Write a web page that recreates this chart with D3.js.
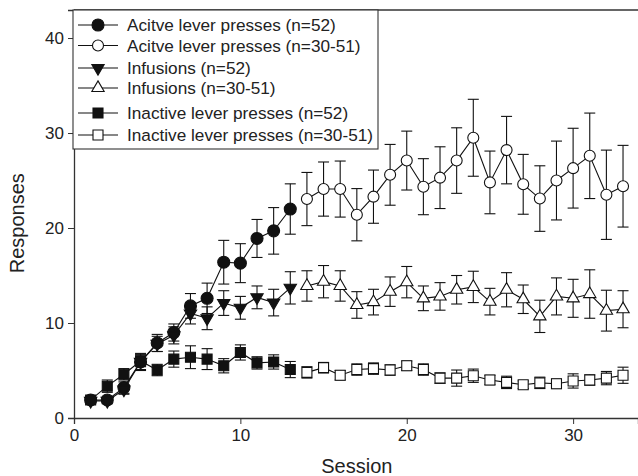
<!DOCTYPE html>
<html>
<head>
<meta charset="utf-8">
<script src="https://cdn.jsdelivr.net/npm/d3@7"></script>
<style>
  body { margin: 0; background: #fff; }
  svg { display: block; font-family: "Liberation Sans", Arial, sans-serif; }
  .axis text { font-size: 17px; fill: #222; }
  .axis path, .axis line { stroke: #333; }
</style>
</head>
<body>
<div id="chart"></div>
<script>
// sessions 1-13 (n=52) and 14-33 (n=30-51)
var sessA = d3.range(1, 14);
var sessB = d3.range(14, 34);

var activeA    = [1.9, 1.9, 3.2, 5.9, 7.9, 9.0, 11.8, 12.6, 16.4, 16.3, 18.9, 19.7, 22.0];
var activeAErr = [0.3, 0.3, 0.6, 0.9, 0.9, 0.9, 1.3, 1.6, 2.3, 2.05, 2.0, 2.45, 2.65];
var activeB    = [23.05, 24.1, 24.1, 21.4, 23.3, 25.6, 27.1, 24.35, 25.3, 27.1, 29.5, 24.8, 28.2, 24.6, 23.1, 25.0, 26.3, 27.6, 23.5, 24.4];
var activeBErr = [2.8, 2.85, 2.95, 2.75, 2.8, 3.2, 3.1, 2.95, 3.25, 3.45, 4.05, 3.3, 3.55, 3.15, 3.45, 4.15, 4.2, 4.5, 4.7, 4.3];

var infA    = [1.8, 1.8, 3.0, 5.9, 7.8, 8.7, 11.0, 10.5, 12.1, 11.6, 12.7, 12.15, 13.7];
var infAErr = [0.3, 0.3, 0.5, 0.8, 0.8, 0.9, 1.1, 1.2, 1.3, 1.2, 1.2, 1.4, 1.7];
var infB    = [13.9, 14.35, 13.9, 11.9, 12.2, 13.3, 14.3, 12.6, 12.8, 13.5, 13.8, 12.25, 13.5, 12.5, 10.7, 12.8, 12.6, 13.05, 11.3, 11.45];
var infBErr = [1.6, 1.7, 1.6, 1.4, 1.35, 1.55, 1.65, 1.3, 1.45, 1.5, 1.65, 1.4, 1.8, 1.5, 1.7, 1.95, 2.0, 2.55, 2.15, 1.95];

var inactA    = [1.9, 3.35, 4.6, 6.0, 5.05, 6.2, 6.4, 6.2, 5.5, 6.9, 5.8, 5.9, 5.1];
var inactAErr = [0.3, 0.65, 0.6, 0.6, 0.6, 0.85, 1.2, 1.1, 0.75, 0.8, 0.65, 0.75, 0.85];
var inactB    = [4.8, 5.3, 4.5, 5.1, 5.2, 5.05, 5.5, 5.1, 4.2, 4.2, 4.45, 4.0, 3.75, 3.5, 3.7, 3.6, 3.9, 4.0, 4.2, 4.5];
var inactBErr = [0.6, 0.55, 0.5, 0.6, 0.6, 0.55, 0.5, 0.6, 0.55, 0.85, 0.7, 0.5, 0.65, 0.4, 0.6, 0.5, 0.75, 0.55, 0.7, 0.85];

var xTicks = [0, 10, 20, 30];
var yTicks = [0, 10, 20, 30, 40];

var series = [
  {name: "Acitve lever presses (n=52)",      x: sessA, y: activeA, e: activeAErr, shape: "circle",   filled: true},
  {name: "Acitve lever presses (n=30-51)",   x: sessB, y: activeB, e: activeBErr, shape: "circle",   filled: false},
  {name: "Infusions (n=52)",                 x: sessA, y: infA,    e: infAErr,    shape: "triDown",  filled: true},
  {name: "Infusions (n=30-51)",              x: sessB, y: infB,    e: infBErr,    shape: "triUp",    filled: false},
  {name: "Inactive lever presses (n=52)",    x: sessA, y: inactA,  e: inactAErr,  shape: "square",   filled: true},
  {name: "Inactive lever presses (n=30-51)", x: sessB, y: inactB,  e: inactBErr,  shape: "square",   filled: false}
];

var W = 638, H = 476;
var margin = {top: 10, right: 0, bottom: 58, left: 74};
var width = W - margin.left - margin.right,
    height = H - margin.top - margin.bottom;

var svg = d3.select("#chart").append("svg").attr("width", W).attr("height", H),
    g = svg.append("g").attr("transform", "translate(" + margin.left + "," + margin.top + ")");

var x = d3.scaleLinear().domain([0, 33.9]).range([0, width]);
var y = d3.scaleLinear().domain([0, 42.95]).range([height, 0]);

function symbolPath(shape, filled) {
  if (shape == "circle") return d3.symbol().type(d3.symbolCircle).size(Math.PI * (filled ? 6 : 5.5) * (filled ? 6 : 5.5))();
  if (shape == "square") return d3.symbol().type(d3.symbolSquare).size(100)();
  return d3.symbol().type(d3.symbolTriangle).size(66)();
}

// top frame
g.append("line")
    .attr("x1", 0).attr("x2", width)
    .attr("y1", 0).attr("y2", 0)
    .attr("stroke", "#333").attr("stroke-width", 1.3);

g.append("g")
    .attr("class", "axis")
    .attr("transform", "translate(0," + height + ")")
    .call(d3.axisBottom(x).tickValues(xTicks).tickSizeOuter(0).tickSize(6).tickPadding(5));

g.append("g")
    .attr("class", "axis")
    .call(d3.axisLeft(y).tickValues(yTicks).tickSizeOuter(0).tickSize(6).tickPadding(4));

g.selectAll(".axis path").attr("stroke-width", 1.3);

var line = d3.line()
    .x(function(d) { return x(d.x); })
    .y(function(d) { return y(d.y); });

var cap = 5.5;

series.forEach(function(s) {
  var pts = s.x.map(function(v, i) { return {x: v, y: s.y[i], e: s.e[i]}; });
  var sg = g.append("g");

  sg.append("path")
      .attr("d", line(pts))
      .attr("fill", "none")
      .attr("stroke", "#111")
      .attr("stroke-width", 1.1);

  var eb = sg.selectAll(".err").data(pts).enter().append("g").attr("class", "err")
      .attr("stroke", "#111").attr("stroke-width", 1.1);
  eb.append("line")
      .attr("x1", function(d) { return x(d.x); }).attr("x2", function(d) { return x(d.x); })
      .attr("y1", function(d) { return y(d.y - d.e); }).attr("y2", function(d) { return y(d.y + d.e); });
  eb.append("line")
      .attr("x1", function(d) { return x(d.x) - cap; }).attr("x2", function(d) { return x(d.x) + cap; })
      .attr("y1", function(d) { return y(d.y + d.e); }).attr("y2", function(d) { return y(d.y + d.e); });
  eb.append("line")
      .attr("x1", function(d) { return x(d.x) - cap; }).attr("x2", function(d) { return x(d.x) + cap; })
      .attr("y1", function(d) { return y(d.y - d.e); }).attr("y2", function(d) { return y(d.y - d.e); });

  sg.selectAll(".pt").data(pts).enter().append("path")
      .attr("class", "pt")
      .attr("d", symbolPath(s.shape, s.filled))
      .attr("transform", function(d) {
        return "translate(" + x(d.x) + "," + y(d.y) + ")" + (s.shape == "triDown" ? " rotate(180)" : "");
      })
      .attr("fill", s.filled ? "#111" : "#fff")
      .attr("stroke", "#111")
      .attr("stroke-width", 1.1);
});

// legend
var legend = g.append("g").attr("transform", "translate(-1,0)");
legend.append("rect")
    .attr("x", 0).attr("y", 0)
    .attr("width", 305).attr("height", 139)
    .attr("fill", "#fff").attr("stroke", "#333").attr("stroke-width", 1.1);

var rowY = [15, 35.5, 58, 78, 103, 125];

var item = legend.selectAll(".item").data(series).enter().append("g")
    .attr("class", "item")
    .attr("transform", function(d, i) { return "translate(0," + rowY[i] + ")"; });

item.append("line")
    .attr("x1", 5).attr("x2", 45)
    .attr("stroke", "#111").attr("stroke-width", 1.1);

item.append("path")
    .attr("d", function(d) { return symbolPath(d.shape, d.filled); })
    .attr("transform", function(d) { return "translate(25,0)" + (d.shape == "triDown" ? " rotate(180)" : ""); })
    .attr("fill", function(d) { return d.filled ? "#111" : "#fff"; })
    .attr("stroke", "#111").attr("stroke-width", 1.1);

item.append("text")
    .attr("x", 54)
    .attr("dy", "0.35em")
    .attr("font-size", 17.2)
    .attr("fill", "#222")
    .text(function(d) { return d.name; });

// axis titles, centred on their axes
svg.append("text")
    .attr("x", margin.left + x(17))
    .attr("y", 473)
    .attr("text-anchor", "middle")
    .attr("font-size", 20)
    .attr("fill", "#222")
    .text("Session");

svg.append("text")
    .attr("transform", "translate(24," + (margin.top + y(20.5)) + ") rotate(-90)")
    .attr("text-anchor", "middle")
    .attr("font-size", 20)
    .attr("fill", "#222")
    .text("Responses");
</script>
</body>
</html>
